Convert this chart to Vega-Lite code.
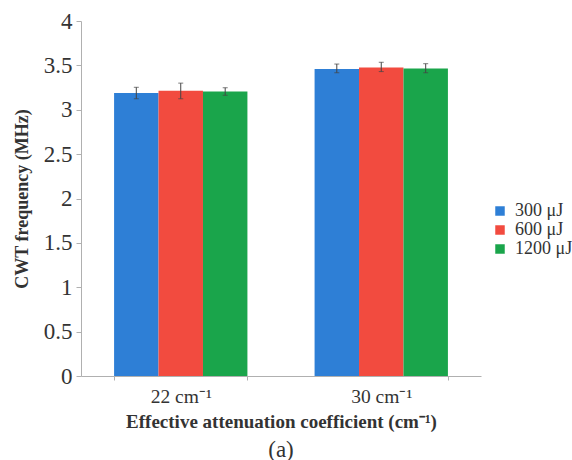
{
  "$schema": "https://vega.github.io/schema/vega-lite/v6.json",
  "width": 400,
  "height": 355,
  "autosize": "none",
  "padding": {"left": 81, "top": 21, "right": 91, "bottom": 84},
  "background": "white",
  "config": {
    "view": {"stroke": null},
    "font": "Liberation Serif",
    "axis": {"domainColor": "#b0b0b0", "tickColor": "#b0b0b0", "labelColor": "#333333", "titleColor": "#333333", "grid": false},
    "legend": {"symbolType": "square", "symbolSize": 90, "labelFontSize": 18, "labelColor": "#333333", "rowPadding": 1, "labelOffset": 6, "symbolStrokeWidth": 0}
  },
  "title": {"text": "(a)", "orient": "bottom", "fontSize": 23, "fontWeight": "normal", "color": "#333333", "anchor": "middle", "offset": 7},
  "data": {
    "values": [
      {"group": "22 cm⁻¹", "energy": "300 μJ", "value": 3.19, "lo": 3.124, "hi": 3.253},
      {"group": "22 cm⁻¹", "energy": "600 μJ", "value": 3.215, "lo": 3.124, "hi": 3.30},
      {"group": "22 cm⁻¹", "energy": "1200 μJ", "value": 3.205, "lo": 3.163, "hi": 3.248},
      {"group": "30 cm⁻¹", "energy": "300 μJ", "value": 3.46, "lo": 3.417, "hi": 3.515},
      {"group": "30 cm⁻¹", "energy": "600 μJ", "value": 3.475, "lo": 3.43, "hi": 3.535},
      {"group": "30 cm⁻¹", "energy": "1200 μJ", "value": 3.465, "lo": 3.417, "hi": 3.519}
    ]
  },
  "encoding": {
    "x": {
      "field": "group", "type": "nominal", "sort": ["22 cm⁻¹", "30 cm⁻¹"],
      "scale": {"paddingInner": 0.335, "paddingOuter": 0.165},
      "axis": {"labelAngle": 0, "labelFontSize": 19.5, "labelPadding": 7, "tickBand": "extent", "tickSize": 4,
               "title": "Effective attenuation coefficient (cm⁻¹)", "titleFontSize": 19, "titleFontWeight": "bold", "titlePadding": 7}
    },
    "xOffset": {"field": "energy", "type": "nominal", "sort": ["300 μJ", "600 μJ", "1200 μJ"], "scale": {"paddingInner": 0, "paddingOuter": 0}}
  },
  "layer": [
    {
      "mark": {"type": "bar"},
      "encoding": {
        "y": {"field": "value", "type": "quantitative", "scale": {"domain": [0, 4], "nice": false},
              "axis": {"values": [0, 0.5, 1, 1.5, 2, 2.5, 3, 3.5, 4], "format": "~g", "labelFontSize": 23, "tickSize": 5, "labelPadding": 4,
                       "title": "CWT frequency (MHz)", "titleFontSize": 18, "titleFontWeight": "bold", "titlePadding": 12}},
        "color": {"field": "energy", "type": "nominal", "sort": ["300 μJ", "600 μJ", "1200 μJ"],
                  "scale": {"domain": ["300 μJ", "600 μJ", "1200 μJ"], "range": ["#2e7fd6", "#f24b3f", "#1aa54b"]},
                  "legend": {"title": null, "orient": "none", "legendX": 410, "legendY": 181}}
      }
    },
    {
      "mark": {"type": "rule", "color": "#444444", "strokeWidth": 1},
      "encoding": {"y": {"field": "lo", "type": "quantitative"}, "y2": {"field": "hi"}}
    },
    {
      "mark": {"type": "tick", "color": "#444444", "size": 5, "thickness": 1},
      "encoding": {"y": {"field": "lo", "type": "quantitative"}}
    },
    {
      "mark": {"type": "tick", "color": "#444444", "size": 5, "thickness": 1},
      "encoding": {"y": {"field": "hi", "type": "quantitative"}}
    }
  ]
}
